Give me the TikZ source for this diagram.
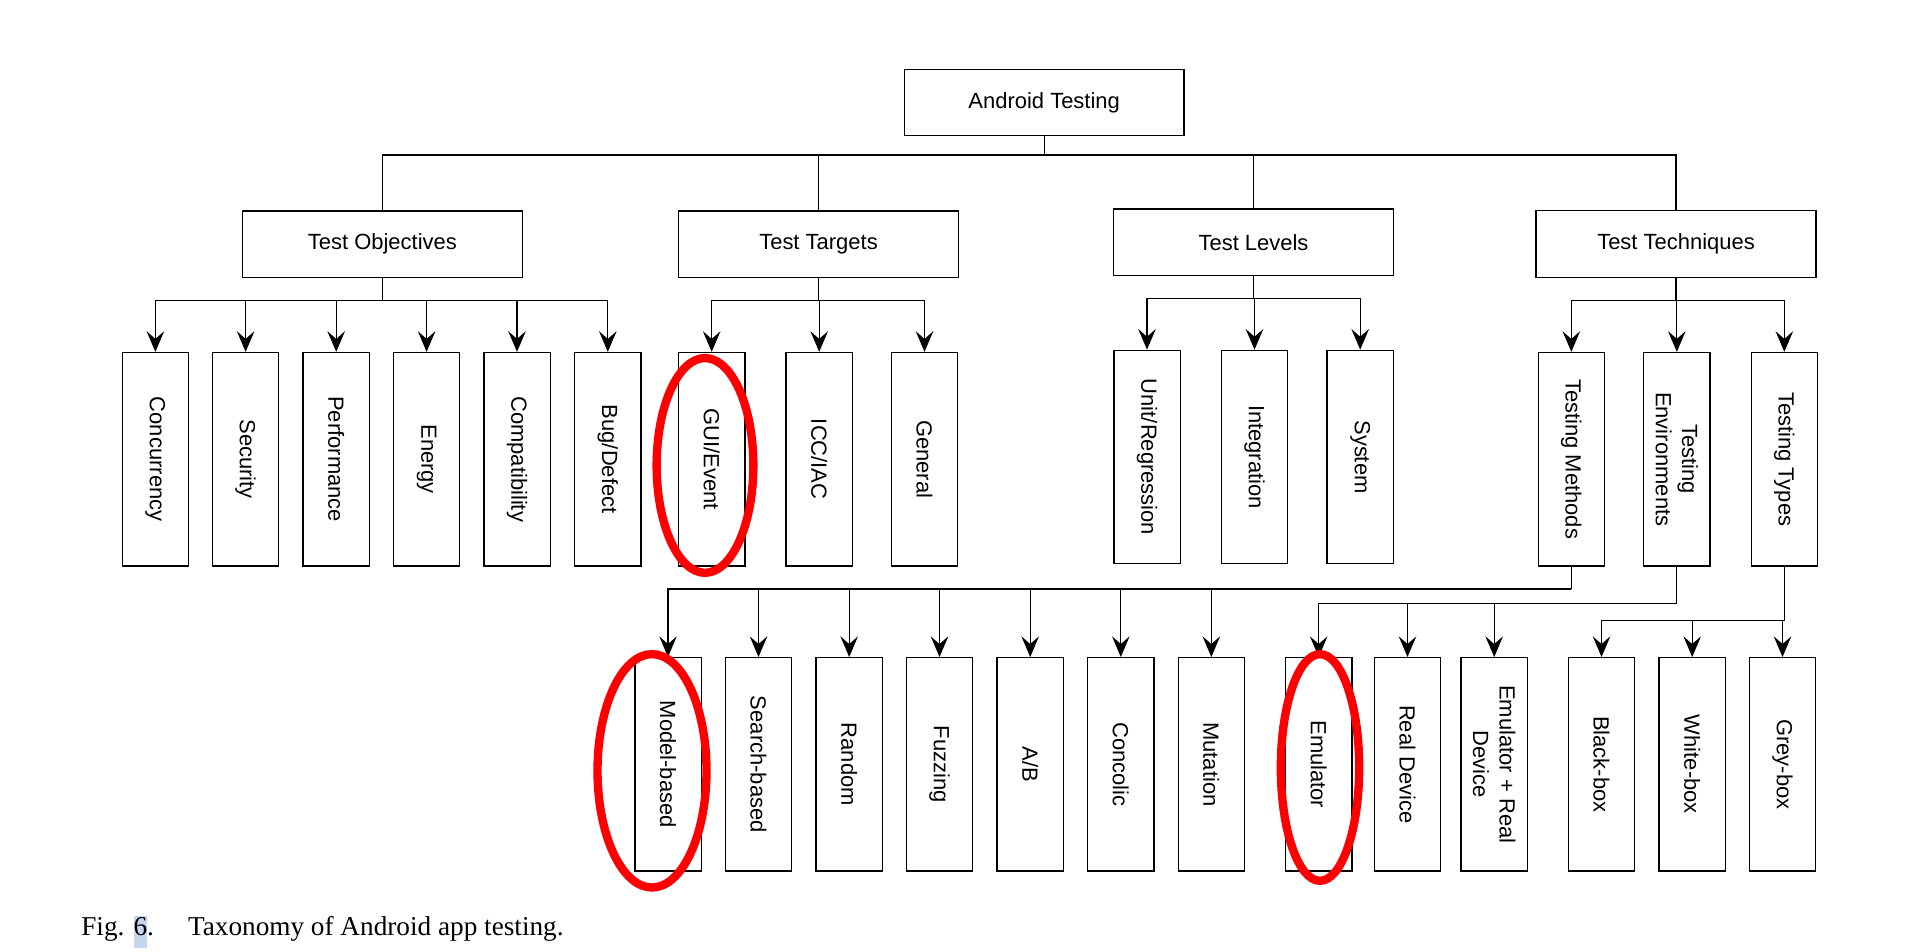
\documentclass[tikz,border=0pt]{standalone}
\usepackage{fontspec}
\setmainfont{Liberation Sans}
\newfontfamily\capfont{Liberation Serif}
\usetikzlibrary{arrows.meta}
\definecolor{selblue}{RGB}{198,214,238}

\begin{document}
\begin{tikzpicture}[>={Stealth[length=9.4pt,width=8pt,inset=3.5pt]}, line width=0.6pt,
	ring/.style={draw=red, line width=3.8pt}]
	\useasboundingbox (0,0) rectangle (30.848,-15.232);

	\node[draw, minimum width=4.475cm, minimum height=1.062cm] (AT) at (16.707,-1.64) {Android Testing};

	\begin{scope}[every node/.style={draw, minimum width=4.48cm, minimum height=1.064cm}]
		\node (TO) at (6.118,-3.907) {Test Objectives};
		\node (TT) at (13.096,-3.907) {Test Targets};
		\node (TL) at (20.056,-3.877) {Test Levels};
		\node (TQ) at (26.816,-3.904) {Test Techniques};
	\end{scope}

	\begin{scope}[every node/.style={draw, rotate=-90, minimum width=3.413cm, minimum height=1.061cm, align=center}]
		% objectives
		\node (CC) at (2.486,-7.347) {Concurrency};
		\node (SE) at (3.930,-7.347) {Security};
		\node (PE) at (5.379,-7.347) {Performance};
		\node (EN) at (6.826,-7.347) {Energy};
		\node (CO) at (8.272,-7.347) {Compatibility};
		\node (BD) at (9.725,-7.347) {Bug/Defect};
		% targets
		\node (GE) at (11.387,-7.347) {GUI/Event};
		\node (IC) at (13.107,-7.347) {ICC/IAC};
		\node (GN) at (14.792,-7.347) {General};
		% levels
		\node (UR) at (18.352,-7.312) {Unit/Regression};
		\node (IN) at (20.072,-7.312) {Integration};
		\node (SY) at (21.763,-7.312) {System};
		% techniques
		\node (TM) at (25.141,-7.347) {Testing Methods};
		\node (TE) at (26.829,-7.347) {Testing\\Environments};
		\node (TY) at (28.549,-7.347) {Testing Types};
		% methods
		\node (MB) at (10.688,-12.229) {Model-based};
		\node (SB) at (12.136,-12.229) {Search-based};
		\node (RA) at (13.587,-12.229) {Random};
		\node (FU) at (15.032,-12.229) {Fuzzing};
		\node (AB) at (16.483,-12.229) {A/B};
		\node (CL) at (17.933,-12.229) {Concolic};
		\node (MU) at (19.381,-12.229) {Mutation};
		% environments
		\node (EM) at (21.099,-12.229) {Emulator};
		\node (RD) at (22.520,-12.229) {Real Device};
		\node (ER) at (23.907,-12.229) {Emulator + Real\\Device};
		% types
		\node (BB) at (25.624,-12.229) {Black-box};
		\node (WB) at (27.075,-12.229) {White-box};
		\node (GB) at (28.520,-12.229) {Grey-box};
	\end{scope}

	% root
	\draw (AT.south) -- ++(0,-0.298) coordinate (ATbus);
	\draw (ATbus) -| (TO);
	\draw (ATbus) -| (TT);
	\draw (ATbus) -| (TL);
	\draw (ATbus) -| (TQ);

	% second level
	\draw (TO.south) -- ++(0,-0.355) coordinate (TObus);
	\draw[->] (TObus) -| (CC);
	\draw[->] (TObus) -| (SE);
	\draw[->] (TObus) -| (PE);
	\draw[->] (TObus) -| (EN);
	\draw[->] (TObus) -| (CO);
	\draw[->] (TObus) -| (BD);

	\draw (TT.south) -- ++(0,-0.355) coordinate (TTbus);
	\draw[->] (TTbus) -| (GE);
	\draw[->] (TTbus) -| (IC);
	\draw[->] (TTbus) -| (GN);

	\draw (TL.south) -- ++(0,-0.358) coordinate (TLbus);
	\draw[->] (TLbus) -| (UR);
	\draw[->] (TLbus) -| (IN);
	\draw[->] (TLbus) -| (SY);

	\draw (TQ.south) -- ++(0,-0.363) coordinate (TQbus);
	\draw[->] (TQbus) -| (TM);
	\draw[->] (TQbus) -| (TE);
	\draw[->] (TQbus) -| (TY);

	% third level
	\draw (TM.east) -- ++(0,-0.362) coordinate (TMbus);
	\draw[->] (TMbus) -| (MB);
	\draw[->] (TMbus) -| (SB);
	\draw[->] (TMbus) -| (RA);
	\draw[->] (TMbus) -| (FU);
	\draw[->] (TMbus) -| (AB);
	\draw[->] (TMbus) -| (CL);
	\draw[->] (TMbus) -| (MU);

	\draw (TE.east) -- ++(0,-0.597) coordinate (TEbus);
	\draw[->] (TEbus) -| (EM);
	\draw[->] (TEbus) -| (RD);
	\draw[->] (TEbus) -| (ER);

	\draw (TY.east) -- ++(0,-0.869) coordinate (TYbus);
	\draw[->] (TYbus) -| (BB);
	\draw[->] (TYbus) -| (WB);
	\draw[->] (TYbus) -| (GB);

	% red marks
	\draw[ring] ([shift={(-0.107,-0.1)}]GE.center) ellipse [x radius=0.774, y radius=1.718];
	\draw[ring] ([shift={(-0.256,-0.104)}]MB.center) ellipse [x radius=0.872, y radius=1.867];
	\draw[ring] ([shift={(0.021,-0.051)}]EM.center) ellipse [x radius=0.627, y radius=1.813];

	\node[anchor=base west, inner sep=0pt, font=\capfont\fontsize{12.4}{15}\selectfont] (CAP) at (1.291,-14.971)
		{Fig. {\setlength{\fboxsep}{0pt}\colorbox{selblue}{\rule[-5.7pt]{0pt}{14.8pt}6}}.\hspace{1.25em}Taxonomy of Android app testing.};
\end{tikzpicture}
\end{document}
